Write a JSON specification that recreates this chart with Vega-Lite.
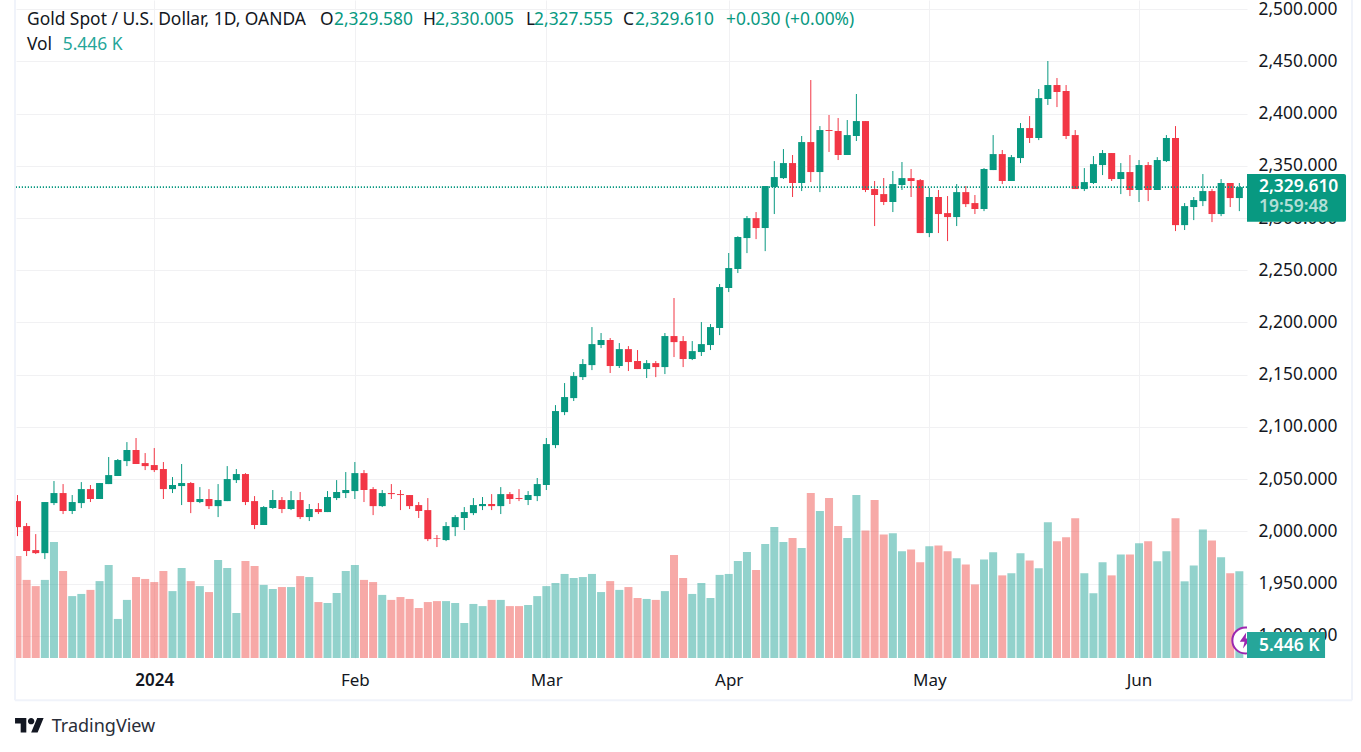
{
  "$schema": "https://vega.github.io/schema/vega-lite/v6.json",
  "autosize": "none",
  "width": 1231,
  "height": 658,
  "padding": {"left": 16, "top": 0, "right": 114, "bottom": 94},
  "background": "white",
  "config": {
    "font": "Noto Sans",
    "view": {"stroke": null},
    "text": {"font": "Noto Sans", "fontSize": 17.4, "align": "left", "baseline": "middle", "color": "#131722"}
  },
  "datasets": {
    "candles": [
      {"i":0,"date":"2023-12-08","open":2029.0,"high":2034.8,"low":1995.5,"close":2004.1,"volume":42.8},
      {"i":1,"date":"2023-12-11","open":2005.1,"high":2008.0,"low":1976.4,"close":1981.2,"volume":32.8},
      {"i":2,"date":"2023-12-12","open":1982.1,"high":1997.4,"low":1978.3,"close":1979.2,"volume":30.2},
      {"i":3,"date":"2023-12-13","open":1979.2,"high":2028.1,"low":1973.5,"close":2028.1,"volume":32.8},
      {"i":4,"date":"2023-12-14","open":2027.1,"high":2048.2,"low":2025.2,"close":2036.7,"volume":48.7},
      {"i":5,"date":"2023-12-15","open":2036.7,"high":2045.3,"low":2016.6,"close":2019.5,"volume":36.5},
      {"i":6,"date":"2023-12-18","open":2019.5,"high":2034.8,"low":2016.6,"close":2028.1,"volume":26.0},
      {"i":7,"date":"2023-12-19","open":2027.1,"high":2047.2,"low":2022.3,"close":2040.5,"volume":26.9},
      {"i":8,"date":"2023-12-20","open":2040.5,"high":2044.4,"low":2028.1,"close":2031.0,"volume":28.6},
      {"i":9,"date":"2023-12-21","open":2031.0,"high":2046.3,"low":2031.0,"close":2046.3,"volume":32.3},
      {"i":10,"date":"2023-12-22","open":2045.3,"high":2071.2,"low":2045.3,"close":2053.9,"volume":39.1},
      {"i":11,"date":"2023-12-26","open":2053.0,"high":2069.3,"low":2053.0,"close":2068.3,"volume":16.4},
      {"i":12,"date":"2023-12-27","open":2067.3,"high":2085.5,"low":2062.5,"close":2077.9,"volume":24.4},
      {"i":13,"date":"2023-12-28","open":2077.9,"high":2089.4,"low":2064.5,"close":2064.5,"volume":34.0},
      {"i":14,"date":"2023-12-29","open":2065.4,"high":2075.0,"low":2058.7,"close":2062.5,"volume":33.2},
      {"i":15,"date":"2024-01-02","open":2063.5,"high":2079.8,"low":2056.8,"close":2058.7,"volume":31.9},
      {"i":16,"date":"2024-01-03","open":2059.7,"high":2066.4,"low":2031.0,"close":2040.5,"volume":36.5},
      {"i":17,"date":"2024-01-04","open":2040.5,"high":2052.0,"low":2036.7,"close":2044.4,"volume":28.1},
      {"i":18,"date":"2024-01-05","open":2043.4,"high":2064.5,"low":2025.2,"close":2046.3,"volume":37.8},
      {"i":19,"date":"2024-01-08","open":2046.3,"high":2047.2,"low":2017.5,"close":2028.1,"volume":32.3},
      {"i":20,"date":"2024-01-09","open":2028.1,"high":2042.4,"low":2027.1,"close":2031.0,"volume":30.2},
      {"i":21,"date":"2024-01-10","open":2031.0,"high":2040.5,"low":2021.4,"close":2024.2,"volume":27.7},
      {"i":22,"date":"2024-01-11","open":2024.2,"high":2045.3,"low":2013.7,"close":2030.0,"volume":41.2},
      {"i":23,"date":"2024-01-12","open":2029.0,"high":2062.5,"low":2029.0,"close":2050.1,"volume":37.8},
      {"i":24,"date":"2024-01-15","open":2049.1,"high":2059.7,"low":2046.3,"close":2054.9,"volume":18.9},
      {"i":25,"date":"2024-01-16","open":2054.9,"high":2055.8,"low":2025.2,"close":2028.1,"volume":40.7},
      {"i":26,"date":"2024-01-17","open":2029.0,"high":2033.8,"low":2002.2,"close":2006.1,"volume":38.6},
      {"i":27,"date":"2024-01-18","open":2006.1,"high":2024.2,"low":2006.1,"close":2023.3,"volume":30.7},
      {"i":28,"date":"2024-01-19","open":2022.3,"high":2039.6,"low":2021.4,"close":2030.0,"volume":29.0},
      {"i":29,"date":"2024-01-22","open":2030.0,"high":2032.9,"low":2017.5,"close":2021.4,"volume":29.8},
      {"i":30,"date":"2024-01-23","open":2021.4,"high":2038.6,"low":2020.4,"close":2030.0,"volume":29.8},
      {"i":31,"date":"2024-01-24","open":2030.0,"high":2037.7,"low":2011.8,"close":2013.7,"volume":34.4},
      {"i":32,"date":"2024-01-25","open":2013.7,"high":2026.2,"low":2009.9,"close":2021.4,"volume":34.0},
      {"i":33,"date":"2024-01-26","open":2021.4,"high":2027.1,"low":2016.6,"close":2018.5,"volume":23.5},
      {"i":34,"date":"2024-01-29","open":2018.5,"high":2038.6,"low":2018.5,"close":2032.9,"volume":23.1},
      {"i":35,"date":"2024-01-30","open":2031.9,"high":2049.1,"low":2030.0,"close":2037.7,"volume":27.3},
      {"i":36,"date":"2024-01-31","open":2036.7,"high":2056.8,"low":2031.9,"close":2039.6,"volume":36.5},
      {"i":37,"date":"2024-02-01","open":2038.6,"high":2066.4,"low":2031.0,"close":2055.8,"volume":39.1},
      {"i":38,"date":"2024-02-02","open":2055.8,"high":2058.7,"low":2028.1,"close":2039.6,"volume":32.8},
      {"i":39,"date":"2024-02-05","open":2040.5,"high":2042.4,"low":2015.6,"close":2024.2,"volume":31.9},
      {"i":40,"date":"2024-02-06","open":2024.2,"high":2039.6,"low":2023.3,"close":2036.7,"volume":26.5},
      {"i":41,"date":"2024-02-07","open":2036.7,"high":2045.3,"low":2031.0,"close":2035.7,"volume":24.4},
      {"i":42,"date":"2024-02-08","open":2035.7,"high":2039.6,"low":2020.4,"close":2034.8,"volume":25.6},
      {"i":43,"date":"2024-02-09","open":2034.8,"high":2034.8,"low":2021.4,"close":2024.2,"volume":24.8},
      {"i":44,"date":"2024-02-12","open":2025.2,"high":2028.1,"low":2012.8,"close":2019.5,"volume":21.0},
      {"i":45,"date":"2024-02-13","open":2020.4,"high":2031.9,"low":1990.7,"close":1992.6,"volume":23.5},
      {"i":46,"date":"2024-02-14","open":1993.6,"high":1996.5,"low":1985.0,"close":1993.0,"volume":23.9},
      {"i":47,"date":"2024-02-15","open":1991.7,"high":2008.9,"low":1990.7,"close":2005.1,"volume":23.9},
      {"i":48,"date":"2024-02-16","open":2004.1,"high":2015.6,"low":1995.5,"close":2013.7,"volume":23.1},
      {"i":49,"date":"2024-02-19","open":2012.8,"high":2023.3,"low":2001.3,"close":2018.5,"volume":14.7},
      {"i":50,"date":"2024-02-20","open":2017.5,"high":2031.9,"low":2015.6,"close":2025.2,"volume":22.7},
      {"i":51,"date":"2024-02-21","open":2024.2,"high":2032.9,"low":2020.4,"close":2026.2,"volume":21.8},
      {"i":52,"date":"2024-02-22","open":2026.2,"high":2035.7,"low":2020.4,"close":2024.2,"volume":24.4},
      {"i":53,"date":"2024-02-23","open":2024.2,"high":2042.4,"low":2016.6,"close":2035.7,"volume":24.4},
      {"i":54,"date":"2024-02-26","open":2035.7,"high":2037.7,"low":2026.2,"close":2031.0,"volume":21.8},
      {"i":55,"date":"2024-02-27","open":2031.9,"high":2040.5,"low":2029.0,"close":2031.0,"volume":21.8},
      {"i":56,"date":"2024-02-28","open":2030.0,"high":2038.6,"low":2025.2,"close":2034.8,"volume":22.3},
      {"i":57,"date":"2024-02-29","open":2033.8,"high":2051.1,"low":2029.0,"close":2045.3,"volume":26.0},
      {"i":58,"date":"2024-03-01","open":2044.4,"high":2089.4,"low":2039.6,"close":2083.6,"volume":30.2},
      {"i":59,"date":"2024-03-04","open":2082.6,"high":2120.9,"low":2079.7,"close":2115.2,"volume":31.5},
      {"i":60,"date":"2024-03-05","open":2114.2,"high":2142.0,"low":2111.3,"close":2128.6,"volume":35.3},
      {"i":61,"date":"2024-03-06","open":2127.6,"high":2152.5,"low":2124.8,"close":2148.7,"volume":33.6},
      {"i":62,"date":"2024-03-07","open":2147.7,"high":2165.0,"low":2144.9,"close":2160.2,"volume":34.0},
      {"i":63,"date":"2024-03-08","open":2159.2,"high":2195.6,"low":2154.4,"close":2179.3,"volume":35.3},
      {"i":64,"date":"2024-03-11","open":2178.4,"high":2189.9,"low":2175.5,"close":2183.2,"volume":27.7},
      {"i":65,"date":"2024-03-12","open":2183.2,"high":2185.1,"low":2151.6,"close":2158.3,"volume":32.3},
      {"i":66,"date":"2024-03-13","open":2158.3,"high":2180.3,"low":2156.4,"close":2174.5,"volume":28.6},
      {"i":67,"date":"2024-03-14","open":2174.5,"high":2177.4,"low":2153.5,"close":2162.1,"volume":29.8},
      {"i":68,"date":"2024-03-15","open":2163.1,"high":2173.6,"low":2155.4,"close":2155.4,"volume":25.2},
      {"i":69,"date":"2024-03-18","open":2155.4,"high":2164.0,"low":2146.8,"close":2161.1,"volume":24.8},
      {"i":70,"date":"2024-03-19","open":2161.1,"high":2163.1,"low":2147.7,"close":2157.3,"volume":24.4},
      {"i":71,"date":"2024-03-20","open":2157.3,"high":2189.9,"low":2150.6,"close":2187.0,"volume":28.1},
      {"i":72,"date":"2024-03-21","open":2187.0,"high":2223.4,"low":2166.9,"close":2181.2,"volume":43.3},
      {"i":73,"date":"2024-03-22","open":2182.2,"high":2187.0,"low":2157.3,"close":2165.0,"volume":33.6},
      {"i":74,"date":"2024-03-25","open":2165.0,"high":2182.2,"low":2164.0,"close":2172.6,"volume":26.9},
      {"i":75,"date":"2024-03-26","open":2171.7,"high":2200.4,"low":2167.9,"close":2179.3,"volume":31.5},
      {"i":76,"date":"2024-03-27","open":2178.4,"high":2198.5,"low":2173.6,"close":2195.6,"volume":25.2},
      {"i":77,"date":"2024-03-28","open":2194.7,"high":2236.8,"low":2187.9,"close":2233.9,"volume":34.9},
      {"i":78,"date":"2024-04-01","open":2233.0,"high":2266.5,"low":2229.1,"close":2252.1,"volume":35.3},
      {"i":79,"date":"2024-04-02","open":2251.2,"high":2282.5,"low":2247.3,"close":2281.8,"volume":40.7},
      {"i":80,"date":"2024-04-03","open":2280.8,"high":2301.9,"low":2266.4,"close":2299.9,"volume":44.5},
      {"i":81,"date":"2024-04-04","open":2299.9,"high":2305.7,"low":2279.8,"close":2290.4,"volume":37.0},
      {"i":82,"date":"2024-04-05","open":2290.4,"high":2330.6,"low":2268.3,"close":2330.6,"volume":47.9},
      {"i":83,"date":"2024-04-08","open":2329.6,"high":2354.5,"low":2303.8,"close":2339.2,"volume":55.0},
      {"i":84,"date":"2024-04-09","open":2338.2,"high":2366.0,"low":2337.3,"close":2352.6,"volume":48.7},
      {"i":85,"date":"2024-04-10","open":2352.6,"high":2360.3,"low":2320.1,"close":2333.5,"volume":50.4},
      {"i":86,"date":"2024-04-11","open":2333.5,"high":2378.5,"low":2325.8,"close":2372.7,"volume":46.2},
      {"i":87,"date":"2024-04-12","open":2372.7,"high":2432.1,"low":2334.4,"close":2344.0,"volume":69.3},
      {"i":88,"date":"2024-04-15","open":2344.0,"high":2388.0,"low":2324.8,"close":2384.2,"volume":61.7},
      {"i":89,"date":"2024-04-16","open":2384.2,"high":2398.6,"low":2363.2,"close":2383.3,"volume":67.2},
      {"i":90,"date":"2024-04-17","open":2383.3,"high":2395.7,"low":2355.5,"close":2360.3,"volume":55.4},
      {"i":91,"date":"2024-04-18","open":2360.3,"high":2393.8,"low":2360.3,"close":2379.4,"volume":50.4},
      {"i":92,"date":"2024-04-19","open":2378.5,"high":2418.7,"low":2373.7,"close":2392.8,"volume":68.5},
      {"i":93,"date":"2024-04-22","open":2392.8,"high":2392.8,"low":2324.8,"close":2326.8,"volume":53.6},
      {"i":94,"date":"2024-04-23","open":2327.7,"high":2335.4,"low":2292.3,"close":2322.0,"volume":66.4},
      {"i":95,"date":"2024-04-24","open":2322.9,"high":2338.3,"low":2312.4,"close":2315.3,"volume":51.9},
      {"i":96,"date":"2024-04-25","open":2315.3,"high":2345.0,"low":2305.7,"close":2332.5,"volume":52.4},
      {"i":97,"date":"2024-04-26","open":2331.6,"high":2353.6,"low":2326.8,"close":2338.2,"volume":44.8},
      {"i":98,"date":"2024-04-29","open":2338.2,"high":2346.9,"low":2320.1,"close":2335.4,"volume":45.6},
      {"i":99,"date":"2024-04-30","open":2336.3,"high":2337.3,"low":2285.6,"close":2285.6,"volume":40.2},
      {"i":100,"date":"2024-05-01","open":2285.6,"high":2328.7,"low":2281.7,"close":2320.1,"volume":46.9},
      {"i":101,"date":"2024-05-02","open":2320.1,"high":2326.8,"low":2285.6,"close":2303.8,"volume":47.3},
      {"i":102,"date":"2024-05-03","open":2304.7,"high":2321.0,"low":2277.9,"close":2300.9,"volume":44.8},
      {"i":103,"date":"2024-05-06","open":2300.9,"high":2332.5,"low":2292.3,"close":2324.8,"volume":41.9},
      {"i":104,"date":"2024-05-07","open":2324.8,"high":2330.6,"low":2310.5,"close":2313.3,"volume":39.3},
      {"i":105,"date":"2024-05-08","open":2314.3,"high":2322.0,"low":2303.8,"close":2308.6,"volume":30.9},
      {"i":106,"date":"2024-05-09","open":2308.6,"high":2347.8,"low":2306.6,"close":2346.9,"volume":41.4},
      {"i":107,"date":"2024-05-10","open":2345.9,"high":2379.4,"low":2345.9,"close":2361.2,"volume":44.4},
      {"i":108,"date":"2024-05-13","open":2361.2,"high":2365.1,"low":2332.5,"close":2335.4,"volume":34.7},
      {"i":109,"date":"2024-05-14","open":2335.4,"high":2360.3,"low":2335.4,"close":2358.3,"volume":35.6},
      {"i":110,"date":"2024-05-15","open":2357.4,"high":2390.9,"low":2352.6,"close":2386.1,"volume":44.0},
      {"i":111,"date":"2024-05-16","open":2386.1,"high":2397.6,"low":2371.8,"close":2376.6,"volume":41.0},
      {"i":112,"date":"2024-05-17","open":2376.6,"high":2423.5,"low":2374.6,"close":2414.8,"volume":37.7},
      {"i":113,"date":"2024-05-20","open":2413.9,"high":2450.3,"low":2408.2,"close":2427.3,"volume":57.0},
      {"i":114,"date":"2024-05-21","open":2427.3,"high":2434.0,"low":2406.2,"close":2420.6,"volume":49.0},
      {"i":115,"date":"2024-05-22","open":2421.6,"high":2427.3,"low":2375.6,"close":2378.5,"volume":50.7},
      {"i":116,"date":"2024-05-23","open":2379.4,"high":2384.2,"low":2327.7,"close":2327.7,"volume":58.7},
      {"i":117,"date":"2024-05-24","open":2327.7,"high":2347.8,"low":2325.8,"close":2334.4,"volume":35.6},
      {"i":118,"date":"2024-05-27","open":2333.5,"high":2359.3,"low":2332.5,"close":2351.6,"volume":27.2},
      {"i":119,"date":"2024-05-28","open":2350.7,"high":2365.1,"low":2341.1,"close":2362.2,"volume":40.2},
      {"i":120,"date":"2024-05-29","open":2362.2,"high":2362.2,"low":2335.4,"close":2337.3,"volume":34.7},
      {"i":121,"date":"2024-05-30","open":2337.3,"high":2352.6,"low":2322.9,"close":2344.0,"volume":43.5},
      {"i":122,"date":"2024-05-31","open":2344.0,"high":2360.3,"low":2321.0,"close":2326.8,"volume":43.5},
      {"i":123,"date":"2024-06-03","open":2326.8,"high":2355.5,"low":2315.3,"close":2350.7,"volume":48.2},
      {"i":124,"date":"2024-06-04","open":2350.7,"high":2353.6,"low":2316.2,"close":2326.8,"volume":49.0},
      {"i":125,"date":"2024-06-05","open":2326.8,"high":2358.3,"low":2326.8,"close":2355.5,"volume":40.6},
      {"i":126,"date":"2024-06-06","open":2354.5,"high":2379.4,"low":2353.6,"close":2376.6,"volume":44.8},
      {"i":127,"date":"2024-06-07","open":2376.6,"high":2388.0,"low":2287.5,"close":2293.2,"volume":58.7},
      {"i":128,"date":"2024-06-10","open":2293.2,"high":2314.3,"low":2288.5,"close":2311.4,"volume":32.2},
      {"i":129,"date":"2024-06-11","open":2310.5,"high":2320.1,"low":2298.0,"close":2317.2,"volume":38.9},
      {"i":130,"date":"2024-06-12","open":2316.2,"high":2342.1,"low":2311.4,"close":2325.8,"volume":54.0},
      {"i":131,"date":"2024-06-13","open":2325.8,"high":2327.7,"low":2296.1,"close":2303.8,"volume":49.4},
      {"i":132,"date":"2024-06-14","open":2303.8,"high":2337.3,"low":2301.8,"close":2333.5,"volume":42.3},
      {"i":133,"date":"2024-06-17","open":2333.5,"high":2333.5,"low":2310.5,"close":2319.1,"volume":35.6},
      {"i":134,"date":"2024-06-18","open":2319.1,"high":2333.5,"low":2306.6,"close":2329.6,"volume":36.4}
    ]
  },
  "data": {"name": "candles"},
  "layer": [
    {
      "mark": {"type": "bar", "size": 8, "opacity": 0.5, "clip": true},
      "encoding": {
        "x": {
          "field": "i",
          "type": "quantitative",
          "title": null,
          "scale": {"domain": [-0.1645, 134.84], "nice": false, "zero": false, "padding": 0},
          "axis": {
            "title": null,
            "values": [15, 37, 58, 78, 100, 123],
            "labelExpr": "datum.value==15?'2024':datum.value==37?'Feb':datum.value==58?'Mar':datum.value==78?'Apr':datum.value==100?'May':'Jun'",
            "labelFontSize": 17,
            "labelFontWeight": {"condition": {"test": "datum.value==15", "value": 600}, "value": 400},
            "labelColor": "#131722",
            "labelPadding": 14,
            "labelFlush": false,
            "labelOverlap": false,
            "domain": false,
            "ticks": false,
            "grid": true,
            "gridColor": "#f1f1f3",
            "gridWidth": 1
          }
        },
        "y": {
          "field": "volume",
          "type": "quantitative",
          "title": null,
          "scale": {"domain": [0, 276.36], "nice": false, "zero": false},
          "axis": null
        },
        "color": {"condition": {"test": "datum.close>=datum.open", "value": "#26a69a"}, "value": "#ef5350"}
      }
    },
    {
      "layer": [
        {
          "mark": {"type": "rule", "strokeWidth": 1, "clip": true},
          "encoding": {
            "x": {"field": "i", "type": "quantitative", "title": null},
            "y": {
              "field": "low",
              "type": "quantitative",
              "title": null,
              "scale": {"domain": [1878.8, 2508.7], "nice": false, "zero": false},
              "axis": {
                "title": null,
                "orient": "right",
                "values": [1900, 1950, 2000, 2050, 2100, 2150, 2200, 2250, 2300, 2350, 2400, 2450, 2500],
                "format": ",.3f",
                "labelFontSize": 17.4,
                "labelColor": "#131722",
                "labelPadding": 11,
                "labelBound": false,
                "labelOverlap": false,
                "domain": false,
                "ticks": false,
                "grid": true,
                "gridColor": "#f1f1f3",
                "gridWidth": 1
              }
            },
            "y2": {"field": "high"},
            "color": {"condition": {"test": "datum.close>=datum.open", "value": "#089981"}, "value": "#f23645"}
          }
        },
        {
          "mark": {"type": "bar", "size": 7, "clip": true},
          "encoding": {
            "x": {"field": "i", "type": "quantitative", "title": null},
            "y": {"field": "open", "type": "quantitative", "title": null},
            "y2": {"field": "close"},
            "color": {"condition": {"test": "datum.close>=datum.open", "value": "#089981"}, "value": "#f23645"}
          }
        },
        {
          "data": {"values": [{}]},
          "layer": [
            {
              "mark": {"type": "rule", "color": "#089981", "strokeWidth": 1.6, "strokeDash": [1.2, 1.8]},
              "encoding": {"y": {"datum": 2329.61, "type": "quantitative", "title": null}}
            },
            {
              "mark": {"type": "point", "shape": "circle", "filled": false, "fill": "white", "stroke": "#9c27b0", "strokeWidth": 2, "size": 676, "opacity": 1, "clip": true},
              "encoding": {
                "x": {"datum": 134.66, "type": "quantitative", "title": null},
                "y": {"datum": 1895.6, "type": "quantitative", "title": null}
              }
            },
            {
              "mark": {"type": "point", "shape": "M0.1,-1L-0.7,0.15L-0.1,0.15L-0.3,1L0.7,-0.25L0.05,-0.25z", "filled": true, "color": "#9c27b0", "size": 256, "opacity": 1, "clip": true},
              "encoding": {
                "x": {"datum": 134.66, "type": "quantitative", "title": null},
                "y": {"datum": 1895.6, "type": "quantitative", "title": null}
              }
            },
            {
              "mark": {"type": "rect", "color": "#089981", "cornerRadiusTopRight": 2, "cornerRadiusBottomRight": 2},
              "encoding": {
                "x": {"datum": 134.84, "type": "quantitative", "title": null},
                "x2": {"datum": 145.7},
                "y": {"datum": 2342.1, "type": "quantitative", "title": null},
                "y2": {"datum": 2296.4}
              }
            },
            {
              "mark": {"type": "rect", "color": "#26a69a"},
              "encoding": {
                "x": {"datum": 134.84, "type": "quantitative", "title": null},
                "x2": {"datum": 143.4},
                "y": {"datum": 1903.6, "type": "quantitative", "title": null},
                "y2": {"datum": 1878.8}
              }
            },
            {
              "mark": {"type": "text", "text": "2,329.610", "color": "white", "fontWeight": 600},
              "encoding": {
                "x": {"datum": 136.16, "type": "quantitative", "title": null},
                "y": {"datum": 2330.0, "type": "quantitative", "title": null}
              }
            },
            {
              "mark": {"type": "text", "text": "19:59:48", "color": "white", "fillOpacity": 0.7, "fontWeight": 600},
              "encoding": {
                "x": {"datum": 136.16, "type": "quantitative", "title": null},
                "y": {"datum": 2310.2, "type": "quantitative", "title": null}
              }
            },
            {
              "mark": {"type": "text", "text": "5.446 K", "color": "white", "fontWeight": 600},
              "encoding": {
                "x": {"datum": 136.16, "type": "quantitative", "title": null},
                "y": {"datum": 1890.2, "type": "quantitative", "title": null}
              }
            },
            {
              "mark": {"type": "text", "text": "Gold Spot / U.S. Dollar, 1D, OANDA"},
              "encoding": {
                "x": {"datum": 1.04, "type": "quantitative", "title": null},
                "y": {"datum": 2489.6, "type": "quantitative", "title": null}
              }
            },
            {
              "mark": {"type": "text", "text": "O"},
              "encoding": {
                "x": {"datum": 33.18, "type": "quantitative", "title": null},
                "y": {"datum": 2489.6, "type": "quantitative", "title": null}
              }
            },
            {
              "mark": {"type": "text", "text": "2,329.580", "color": "#089981"},
              "encoding": {
                "x": {"datum": 34.71, "type": "quantitative", "title": null},
                "y": {"datum": 2489.6, "type": "quantitative", "title": null}
              }
            },
            {
              "mark": {"type": "text", "text": "H"},
              "encoding": {
                "x": {"datum": 44.47, "type": "quantitative", "title": null},
                "y": {"datum": 2489.6, "type": "quantitative", "title": null}
              }
            },
            {
              "mark": {"type": "text", "text": "2,330.005", "color": "#089981"},
              "encoding": {
                "x": {"datum": 45.79, "type": "quantitative", "title": null},
                "y": {"datum": 2489.6, "type": "quantitative", "title": null}
              }
            },
            {
              "mark": {"type": "text", "text": "L"},
              "encoding": {
                "x": {"datum": 55.77, "type": "quantitative", "title": null},
                "y": {"datum": 2489.6, "type": "quantitative", "title": null}
              }
            },
            {
              "mark": {"type": "text", "text": "2,327.555", "color": "#089981"},
              "encoding": {
                "x": {"datum": 56.65, "type": "quantitative", "title": null},
                "y": {"datum": 2489.6, "type": "quantitative", "title": null}
              }
            },
            {
              "mark": {"type": "text", "text": "C"},
              "encoding": {
                "x": {"datum": 66.41, "type": "quantitative", "title": null},
                "y": {"datum": 2489.6, "type": "quantitative", "title": null}
              }
            },
            {
              "mark": {"type": "text", "text": "2,329.610", "color": "#089981"},
              "encoding": {
                "x": {"datum": 67.72, "type": "quantitative", "title": null},
                "y": {"datum": 2489.6, "type": "quantitative", "title": null}
              }
            },
            {
              "mark": {"type": "text", "text": "+0.030 (+0.00%)", "color": "#089981"},
              "encoding": {
                "x": {"datum": 77.7, "type": "quantitative", "title": null},
                "y": {"datum": 2489.6, "type": "quantitative", "title": null}
              }
            },
            {
              "mark": {"type": "text", "text": "Vol"},
              "encoding": {
                "x": {"datum": 1.04, "type": "quantitative", "title": null},
                "y": {"datum": 2465.4, "type": "quantitative", "title": null}
              }
            },
            {
              "mark": {"type": "text", "text": "5.446 K", "color": "#26a69a"},
              "encoding": {
                "x": {"datum": 4.96, "type": "quantitative", "title": null},
                "y": {"datum": 2465.4, "type": "quantitative", "title": null}
              }
            },
            {
              "mark": {"type": "rule", "color": "#f0f3fa", "strokeWidth": 2},
              "encoding": {
                "x": {"datum": -0.274, "type": "quantitative", "title": null},
                "y": {"datum": 2508.7, "type": "quantitative", "title": null},
                "y2": {"datum": 1838.4}
              }
            },
            {
              "mark": {"type": "rule", "color": "#f0f3fa", "strokeWidth": 2},
              "encoding": {
                "x": {"datum": 146.36, "type": "quantitative", "title": null},
                "y": {"datum": 2508.7, "type": "quantitative", "title": null},
                "y2": {"datum": 1838.4}
              }
            },
            {
              "mark": {"type": "rule", "color": "#f0f3fa", "strokeWidth": 2},
              "encoding": {
                "x": {"datum": -0.274, "type": "quantitative", "title": null},
                "x2": {"datum": 146.36},
                "y": {"datum": 1838.4, "type": "quantitative", "title": null}
              }
            },
            {
              "mark": {"type": "point", "shape": "M-0.222,0.5L-0.611,0.5L-0.611,-0.111L-1,-0.111L-1,-0.5L-0.222,-0.5zM0.556,0.5L0.111,0.5L0.528,-0.5L0.972,-0.5zM-0.111,-0.278a0.222,0.222 0 1,0 0.444,0a0.222,0.222 0 1,0 -0.444,0z", "filled": true, "color": "#131722", "size": 841, "opacity": 1},
              "encoding": {
                "x": {"datum": 1.32, "type": "quantitative", "title": null},
                "y": {"datum": 1814.5, "type": "quantitative", "title": null}
              }
            },
            {
              "mark": {"type": "text", "text": "TradingView", "fontSize": 18, "color": "#2a2e39"},
              "encoding": {
                "x": {"datum": 3.75, "type": "quantitative", "title": null},
                "y": {"datum": 1812.6, "type": "quantitative", "title": null}
              }
            }
          ]
        }
      ]
    }
  ],
  "resolve": {"scale": {"y": "independent"}, "axis": {"y": "independent"}}
}
